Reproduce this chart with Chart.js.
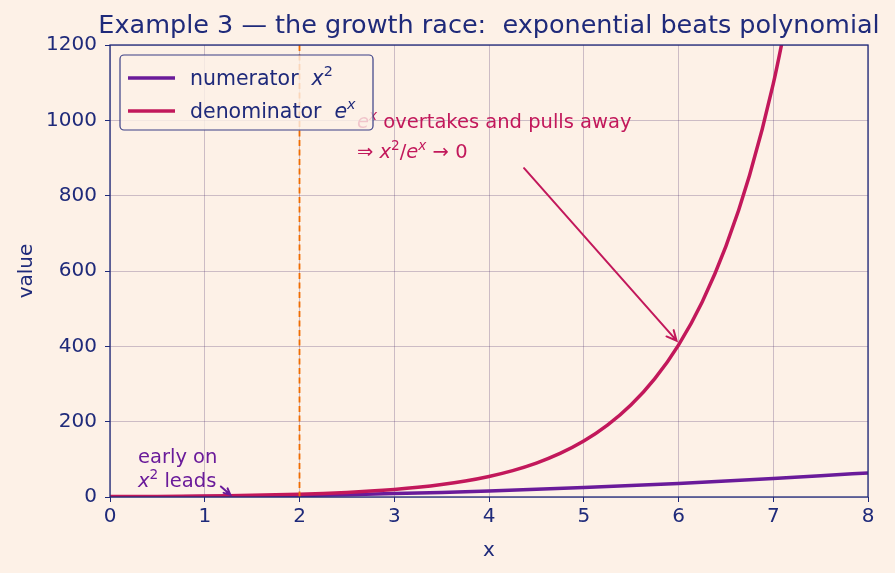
<!DOCTYPE html>
<html>
<head>
  <meta charset="UTF-8">
  <title>Growth race</title>
  <script src="https://cdn.jsdelivr.net/npm/chart.js"></script>
  <style>
    html, body { margin: 0; padding: 0; background: #fdf1e7; }
    #wrap { width: 895px; height: 573px; position: relative; }
  </style>
</head>
<body>
<div id="wrap"><canvas id="raceChart"></canvas></div>

<script>
  // values
  const xNum = [0, 0.5, 1, 1.5, 2, 2.5, 3, 3.5, 4, 4.5, 5, 5.5, 6, 6.5, 7, 7.5, 8];
  const numerator = [0, 0.25, 1, 2.25, 4, 6.25, 9, 12.25, 16, 20.25, 25, 30.25, 36, 42.25, 49, 56.25, 64];

  const xDen = [0, 0.25, 0.5, 0.75, 1, 1.25, 1.5, 1.75, 2, 2.25, 2.5, 2.75, 3, 3.25, 3.5, 3.75,
                4, 4.25, 4.5, 4.75, 5, 5.25, 5.5, 5.75, 6, 6.25, 6.5, 6.75, 7, 7.25];
  const denominator = [1, 1.28, 1.65, 2.12, 2.72, 3.49, 4.48, 5.75, 7.39, 9.49, 12.18, 15.64, 20.09, 25.79, 33.12, 42.52,
                       54.6, 70.1, 90.0, 115.6, 148.4, 190.6, 244.7, 314.2, 403.4, 518.0, 665.1, 854.1, 1096.6, 1408.1];

  const xTicks = [0, 1, 2, 3, 4, 5, 6, 7, 8];
  const yTicks = [0, 200, 400, 600, 800, 1000, 1200];
  const markerX = 2;

  const NAVY = '#1f2a7a';
  const PURPLE = '#6a1b9a';
  const CRIMSON = '#c2185b';
  const ORANGE = '#ef6c00';
  const FONT = '"DejaVu Sans", sans-serif';

  // custom drawing: frame, title, axis titles, annotations, legend
  const decor = {
    id: 'decor',
    beforeDraw(chart) {
      const c = chart.ctx;
      c.save();
      c.fillStyle = '#fdf1e7';
      c.fillRect(0, 0, chart.width, chart.height);
      c.restore();
    },
    afterDatasetsDraw(chart) {
      const c = chart.ctx;
      const a = chart.chartArea;
      const xs = chart.scales.x, ys = chart.scales.y;

      // dashed marker at x = 2
      c.save();
      c.strokeStyle = ORANGE;
      c.lineWidth = 1.8;
      c.setLineDash([6, 3.5]);
      const mx = xs.getPixelForValue(markerX);
      c.beginPath();
      c.moveTo(mx, a.top);
      c.lineTo(mx, a.bottom);
      c.stroke();
      c.restore();

      // frame
      c.save();
      c.strokeStyle = NAVY;
      c.lineWidth = 1.3;
      c.strokeRect(a.left, a.top, a.right - a.left, a.bottom - a.top);
      c.restore();

      // title
      c.save();
      c.fillStyle = NAVY;
      c.font = '25.5px ' + FONT;
      c.textAlign = 'center';
      c.textBaseline = 'alphabetic';
      c.fillText('Example 3 \u2014 the growth race:  exponential beats polynomial', (a.left + a.right) / 2, 33);
      // axis titles
      c.font = '20px ' + FONT;
      c.fillText('x', (a.left + a.right) / 2, 556);
      c.translate(32, (a.top + a.bottom) / 2);
      c.rotate(-Math.PI / 2);
      c.fillText('value', 0, 0);
      c.restore();

      // helper: draw runs of text with italic / superscript parts
      function rich(parts, x, y, size, color) {
        c.save();
        c.fillStyle = color;
        c.textBaseline = 'alphabetic';
        c.textAlign = 'left';
        let cx = x;
        parts.forEach(p => {
          const s = p.sup ? size * 0.7 : size;
          c.font = (p.it ? 'italic ' : '') + s + 'px ' + FONT;
          c.fillText(p.t, cx, p.sup ? y - size * 0.42 : y);
          cx += c.measureText(p.t).width;
        });
        c.restore();
        return cx;
      }

      // annotations
      rich([{t: 'e', it: true}, {t: 'x', it: true, sup: true}, {t: ' overtakes and pulls away'}], 357, 128, 19.5, CRIMSON);
      rich([{t: '\u21d2 '}, {t: 'x', it: true}, {t: '2', sup: true}, {t: '/'}, {t: 'e', it: true},
            {t: 'x', it: true, sup: true}, {t: ' \u2192 '}, {t: '0'}], 357, 158, 19.5, CRIMSON);
      rich([{t: 'early on'}], 138, 463, 19.5, PURPLE);
      rich([{t: 'x', it: true}, {t: '2', sup: true}, {t: ' leads'}], 138, 487, 19.5, PURPLE);

      function arrow(x0, y0, x1, y1, color, head) {
        const p0 = [xs.getPixelForValue(x0), ys.getPixelForValue(y0)];
        const p1 = [xs.getPixelForValue(x1), ys.getPixelForValue(y1)];
        const ang = Math.atan2(p1[1] - p0[1], p1[0] - p0[0]);
        c.save();
        c.strokeStyle = color;
        c.lineWidth = 2;
        c.lineCap = 'round';
        c.beginPath();
        c.moveTo(p0[0], p0[1]);
        c.lineTo(p1[0], p1[1]);
        c.moveTo(p1[0] - head * Math.cos(ang - 0.45), p1[1] - head * Math.sin(ang - 0.45));
        c.lineTo(p1[0], p1[1]);
        c.lineTo(p1[0] - head * Math.cos(ang + 0.45), p1[1] - head * Math.sin(ang + 0.45));
        c.stroke();
        c.restore();
      }
      arrow(4.37, 873, 5.98, 415, CRIMSON, 11);
      arrow(1.17, 28, 1.27, 6, PURPLE, 7);

      // legend (drawn last, sits above the annotation text)
      c.save();
      c.fillStyle = 'rgba(253,241,231,0.8)';
      c.strokeStyle = '#3a3f86';
      c.lineWidth = 1.2;
      c.beginPath();
      c.roundRect(120, 55, 253, 75, 4);
      c.fill();
      c.stroke();
      c.lineWidth = 3.5;
      c.strokeStyle = PURPLE;
      c.beginPath(); c.moveTo(128, 78); c.lineTo(175, 78); c.stroke();
      c.strokeStyle = CRIMSON;
      c.beginPath(); c.moveTo(128, 111); c.lineTo(175, 111); c.stroke();
      c.restore();
      rich([{t: 'numerator  '}, {t: 'x', it: true}, {t: '2', sup: true}], 190, 85, 20.5, NAVY);
      rich([{t: 'denominator  '}, {t: 'e', it: true}, {t: 'x', it: true, sup: true}], 190, 118, 20.5, NAVY);
    }
  };

  const ctx = document.getElementById('raceChart').getContext('2d');
  new Chart(ctx, {
    type: 'line',
    data: {
      datasets: [
        {
          label: 'numerator x^2',
          data: xNum.map((x, i) => ({x: x, y: numerator[i]})),
          borderColor: PURPLE,
          borderWidth: 3.5,
          pointRadius: 0,
          cubicInterpolationMode: 'monotone',
          order: 1
        },
        {
          label: 'denominator e^x',
          data: xDen.map((x, i) => ({x: x, y: denominator[i]})),
          borderColor: CRIMSON,
          borderWidth: 3.5,
          pointRadius: 0,
          cubicInterpolationMode: 'monotone',
          order: 0
        }
      ]
    },
    options: {
      responsive: true,
      maintainAspectRatio: false,
      animation: false,
      layout: { padding: { left: 0, top: 45, right: 27, bottom: 0 } },
      plugins: {
        legend: { display: false },
        tooltip: { enabled: false }
      },
      scales: {
        x: {
          type: 'linear',
          min: 0, max: 8,
          afterBuildTicks: s => { s.ticks = xTicks.map(v => ({value: v})); },
          afterFit: s => { s.height = 76; },
          grid: { color: 'rgba(80,50,110,0.28)', tickColor: NAVY, tickLength: 5, lineWidth: 1 },
          border: { display: false },
          ticks: { color: NAVY, font: { family: FONT, size: 20 }, padding: 3, maxRotation: 0,
                   callback: v => String(v) }
        },
        y: {
          type: 'linear',
          min: 0, max: 1200,
          afterBuildTicks: s => { s.ticks = yTicks.map(v => ({value: v})); },
          afterFit: s => { s.width = 110; },
          grid: { color: 'rgba(80,50,110,0.28)', tickColor: NAVY, tickLength: 5, lineWidth: 1 },
          border: { display: false },
          ticks: { color: NAVY, font: { family: FONT, size: 20 }, padding: 8,
                   callback: v => String(v) }
        }
      }
    },
    plugins: [decor]
  });
</script>
</body>
</html>
